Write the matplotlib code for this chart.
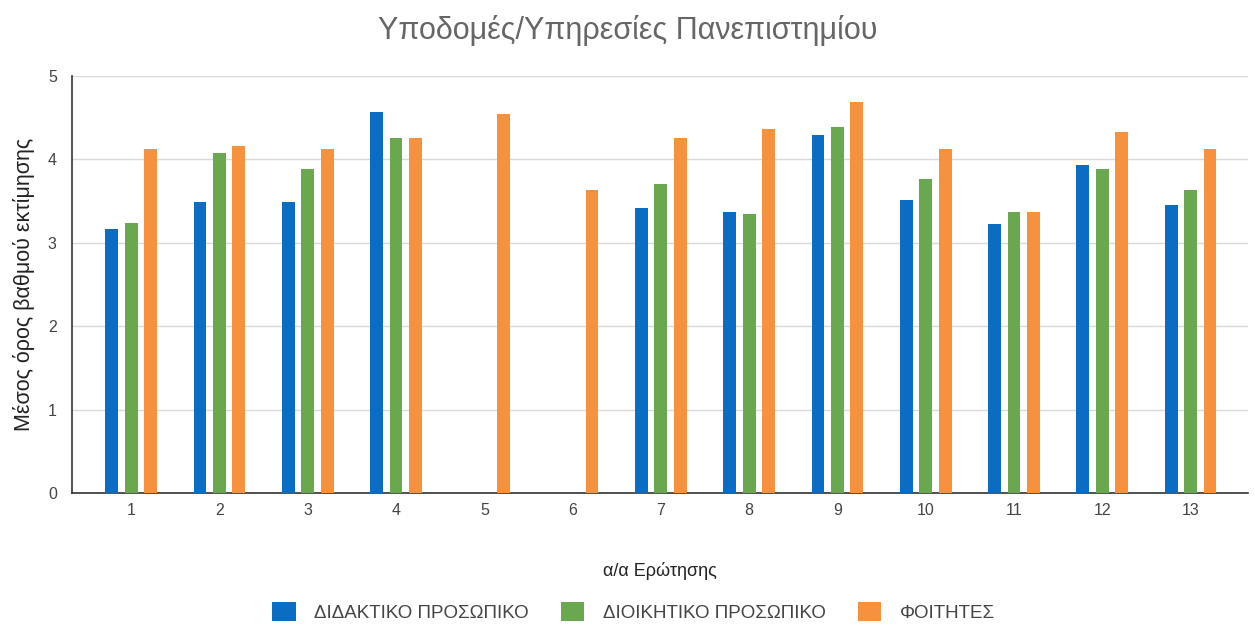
import numpy as np
import matplotlib.pyplot as plt

plt.rcParams['font.family'] = ['Liberation Sans', 'DejaVu Sans']

# δεδομένα
questions = ['1', '2', '3', '4', '5', '6', '7', '8', '9', '10', '11', '12', '13']
didaktiko = [3.17, 3.49, 3.49, 4.57, np.nan, np.nan, 3.42, 3.37, 4.29, 3.51, 3.23, 3.93, 3.45]
dioikitiko = [3.24, 4.08, 3.88, 4.26, np.nan, np.nan, 3.70, 3.35, 4.39, 3.76, 3.37, 3.88, 3.63]
foitites = [4.13, 4.16, 4.12, 4.26, 4.54, 3.63, 4.26, 4.37, 4.69, 4.12, 3.37, 4.33, 4.12]

series = [
    ('ΔΙΔΑΚΤΙΚΟ ΠΡΟΣΩΠΙΚΟ', didaktiko, '#0b6cc4'),
    ('ΔΙΟΙΚΗΤΙΚΟ ΠΡΟΣΩΠΙΚΟ', dioikitiko, '#6aa84f'),
    ('ΦΟΙΤΗΤΕΣ', foitites, '#f6913d'),
]

fig = plt.figure(figsize=(12.55, 6.28), dpi=100)
ax = fig.add_axes([0.0574, 0.215, 0.937, 0.664])

x = np.arange(len(questions))
pitch = 0.22
width = 0.145
for i, (name, vals, color) in enumerate(series):
    ax.bar(x + (i - 1) * pitch, vals, width, color=color, label=name, zorder=3)

ax.set_xlim(-0.67, len(questions) - 1 + 0.65)
ax.set_ylim(0, 5)
ax.set_yticks([0, 1, 2, 3, 4, 5])
ax.set_xticks(x)
ax.set_xticklabels(questions)
ax.tick_params(axis='both', length=0, labelsize=11.5, colors='#444444', pad=7)
ax.tick_params(axis='y', pad=11)

ax.grid(True, axis='y', color='#d9d9d9', linewidth=1, zorder=0)
for s in ['top', 'right']:
    ax.spines[s].set_visible(False)
ax.spines['left'].set_color('#333333')
ax.spines['bottom'].set_color('#333333')
ax.spines['left'].set_linewidth(1.2)
ax.spines['bottom'].set_linewidth(1.2)

fig.text(0.5, 0.952, 'Υποδομές/Υπηρεσίες Πανεπιστημίου', ha='center', va='center',
         fontsize=22, color='#666666')
ax.set_ylabel('Μέσος όρος βαθμού εκτίμησης', fontsize=15.5, color='#222222', labelpad=9)
ax.set_xlabel('α/α Ερώτησης', fontsize=13, color='#222222', labelpad=32)

fig.legend(loc='center', bbox_to_anchor=(0.505, 0.026), ncol=3, frameon=False,
           fontsize=13.5, handlelength=1.25, handleheight=1.25, handletextpad=1.0,
           columnspacing=1.7, labelcolor='#444444')

fig.savefig('out.png', dpi=100)
